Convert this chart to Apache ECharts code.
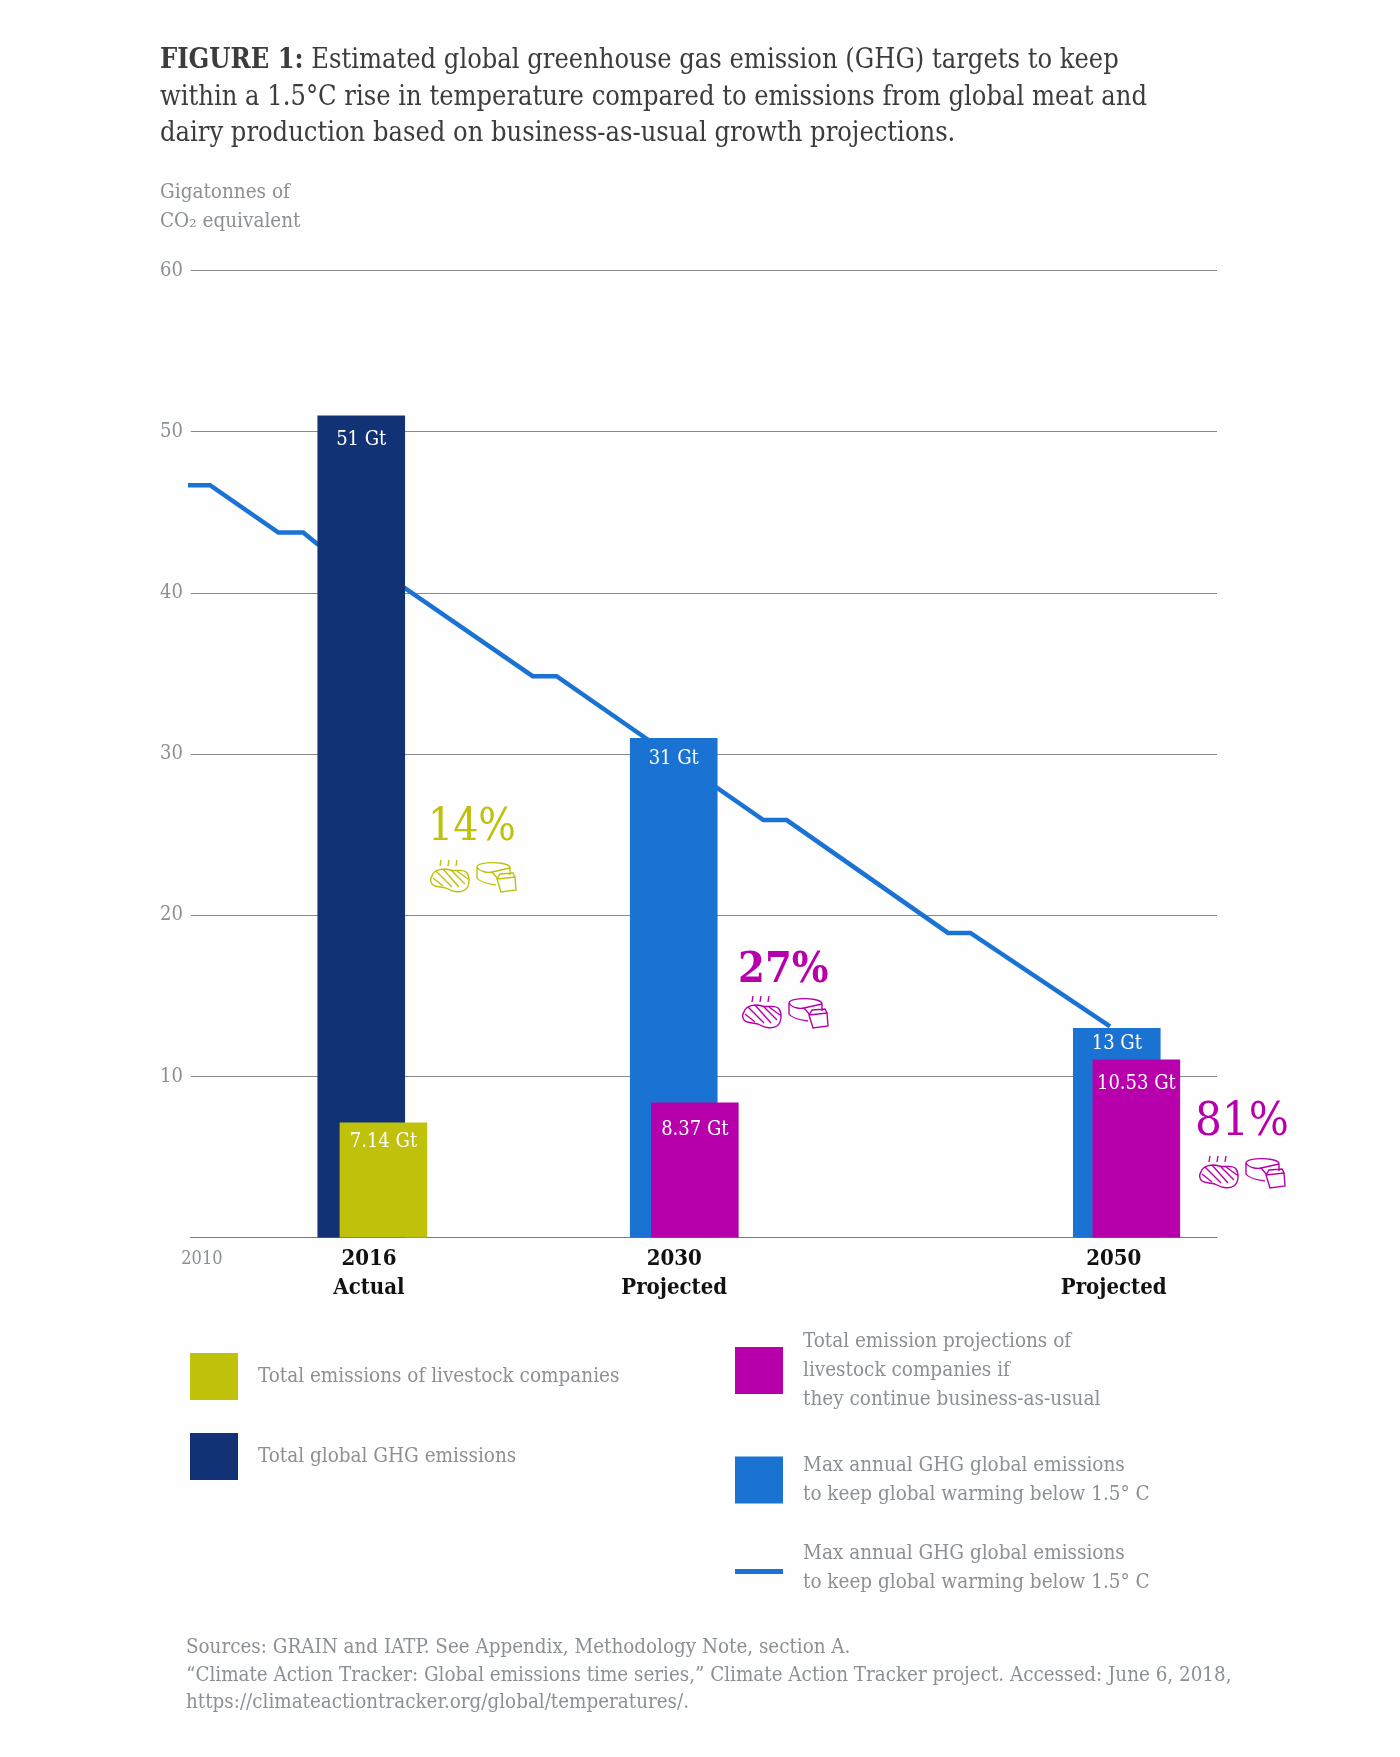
<!DOCTYPE html>
<html>
<head>
<meta charset="utf-8">
<title>Figure 1</title>
<script src="https://cdn.jsdelivr.net/npm/echarts@6/dist/echarts.min.js"></script>
<style>
html,body{margin:0;padding:0;background:#fefefe;}
#chart{width:1400px;height:1757px;}
</style>
</head>
<body>
<div id="chart"></div>
<script>
// blue target line
var lineYears = [2007.85,2008.88,2011.99,2013.12,2013.75,2017.75,2023.56,2024.65,2034.06,2035.12,2042.46,2043.48,2049.83];
var lineValues = [46.68,46.68,43.74,43.74,43.04,40.29,34.83,34.83,25.9,25.9,18.9,18.9,13.1];

// bars (x is where the bar sits on the year axis)
var globalYears = [2015.76];
var globalValues = [51];
var globalLabels = ['51 Gt'];
var livestockYears = [2016.77];
var livestockValues = [7.14];
var livestockLabels = ['7.14 Gt'];
var targetYears = [2029.98,2050.14];
var targetValues = [31,13];
var targetLabels = ['31 Gt','13 Gt'];
var projectedYears = [2030.94,2051.03];
var projectedValues = [8.37,11.05]; // last bar is drawn taller than its printed 10.53
var projectedLabels = ['8.37 Gt','10.53 Gt'];

// tick labels
var xTickValues = [2008.51,2016.11,2030,2050];
var xTickYears = ['2010','2016','2030','2050'];
var xTickNotes = ['','Actual','Projected','Projected'];
var yTickValues = [10,20,30,40,50,60];

var shares = ['14%','27%','81%'];

var titleText = '{b|FIGURE 1:} Estimated global greenhouse gas emission (GHG) targets to keep\n'
	+ 'within a 1.5°C rise in temperature compared to emissions from global meat and\n'
	+ 'dairy production based on business-as-usual growth projections.';
var axisTitle = 'Gigatonnes of\nCO₂ equivalent';
var sourceText = 'Sources: GRAIN and IATP. See Appendix, Methodology Note, section A.\n'
	+ '“Climate Action Tracker: Global emissions time series,” Climate Action Tracker project. Accessed: June 6, 2018,\n'
	+ 'https://climateactiontracker.org/global/temperatures/.';

var names = {
	livestock:'Total emissions of livestock companies',
	global:'Total global GHG emissions',
	projected:'Total emission projections of\nlivestock companies if\nthey continue business-as-usual',
	target:'Max annual GHG global emissions\nto keep global warming below 1.5° C',
	line:'Max annual GHG global emissions (line)'
};

var FONT = '"DejaVu Serif Condensed","DejaVu Serif",serif';
var NAVY = '#113275', BLUE = '#1a73d3', OLIVE = '#bfc10a', MAGENTA = '#b700ac', GREY = '#8b9094';

function barData(xs, ys, labels, drops){
	var out = [];
	for(var i=0;i<xs.length;i++){
		out.push({
			value:[xs[i],ys[i]],
			label:{formatter:labels[i],distance:drops[i]}
		});
	}
	return out;
}

function barSeries(name, color, data){
	return {
		name:name,
		type:'bar',
		barWidth:87.6,
		barGap:'-100%',
		z:3,
		itemStyle:{color:color},
		label:{show:true,position:'insideTop',color:'#fff',fontFamily:FONT,fontSize:20},
		data:data
	};
}

function legendAt(name, left, top, extra){
	var leg = {
		left:left,
		top:top,
		orient:'vertical',
		padding:0,
		selectedMode:false,
		itemWidth:48,
		itemHeight:47,
		icon:'rect',
		// the line's text sits a little above its swatch, hence the small empty row
		formatter:function(n){ return n==names.line ? names.target+'\n{gap| }' : n; },
		textStyle:{color:GREY,fontFamily:FONT,fontSize:20.5,lineHeight:29,padding:[0,0,0,15],
			rich:{gap:{fontSize:4,lineHeight:7}}},
		data:[name]
	};
	if(extra){ for(var k in extra){ leg[k]=extra[k]; } }
	return leg;
}

// steak and cheese outline, drawn in a 86x32 box
var ICON = 'M11 0 L10 6 M19 0 L18 6 M27 0 L26 6 '
	+ 'M2 16 C4 9 14 8 20 10 C26 12 33 8 37 13 C40 17 40 26 35 30 C30 33 23 32 18 29 C13 26 5 28 2 24 C0 21 0 19 2 16 Z '
	+ 'M6 11 L22 27 M13 9 L29 27 M21 10 L35 24 M27 11 L38 19 M3 18 L13 26 '
	+ 'M47 7 C47 1 80 1 80 8 L80 15 M47 7 L47 18 C50 23 60 24 66 25 '
	+ 'M47 7 C50 12 58 13 62 12 L80 8 M62 12 L68 19 '
	+ 'M67 19 L85 17 L86 30 L71 32 Z M67 19 L70 14 L83 13 L85 17';
echarts.graphic.registerShape('foodIcon',echarts.graphic.extendPath(ICON,{}));

function shareMark(text, color, font, tx, ty, ix, iy){
	return [
		{type:'text',x:tx,y:ty,style:{text:text,fill:color,font:font+' '+FONT,textVerticalAlign:'middle'}},
		{type:'foodIcon',x:ix,y:iy,style:{fill:'none',stroke:color,lineWidth:1.4}}
	];
}

var lineData = [];
for(var i=0;i<lineYears.length;i++){ lineData.push([lineYears[i],lineValues[i]]); }

var option = {
	animation:false,
	backgroundColor:'#fefefe',
	textStyle:{fontFamily:FONT},
	title:[
		{
			left:160,top:43,padding:0,text:titleText,
			textStyle:{color:'#3c3c3c',fontFamily:FONT,fontWeight:'normal',fontSize:27,lineHeight:36.5,
				rich:{b:{fontFamily:FONT,fontWeight:'bold',fontSize:27,lineHeight:36.5,color:'#3c3c3c'}}}
		},
		{
			left:160,top:178,padding:0,text:axisTitle,
			textStyle:{color:GREY,fontFamily:FONT,fontWeight:'normal',fontSize:20.5,lineHeight:29}
		},
		{
			left:186,top:1634,padding:0,text:sourceText,
			textStyle:{color:GREY,fontFamily:FONT,fontWeight:'normal',fontSize:20.4,lineHeight:27.5}
		}
	],
	grid:{left:190.7,right:183,top:270.5,bottom:519.5},
	xAxis:{
		type:'value',
		min:2008,
		max:2054.7,
		splitLine:{show:false},
		axisTick:{show:false},
		axisLine:{show:true,onZero:false,lineStyle:{color:'#7a7a7a',width:1.2}},
		axisLabel:{
			customValues:xTickValues,
			margin:7.5,
			lineHeight:29,
			formatter:function(v){
				var i = xTickValues.indexOf(v);
				if(!xTickNotes[i]){ return '{plain|'+xTickYears[i]+'}'; }
				return '{yr|'+xTickYears[i]+'}\n{yr|'+xTickNotes[i]+'}';
			},
			rich:{
				plain:{color:GREY,fontFamily:FONT,fontSize:18,lineHeight:29},
				yr:{color:'#111',fontFamily:FONT,fontWeight:'bold',fontSize:22,lineHeight:29}
			}
		}
	},
	yAxis:{
		type:'value',
		min:0,
		max:60,
		interval:10,
		axisLine:{show:false},
		axisTick:{show:false},
		splitLine:{show:true,lineStyle:{color:'#8a8a8a',width:1.2}},
		axisLabel:{
			customValues:yTickValues,
			color:GREY,
			fontFamily:FONT,
			fontSize:20,
			align:'left',
			margin:30.7
		}
	},
	legend:[
		legendAt(names.livestock,190,1353),
		legendAt(names.global,190,1433),
		legendAt(names.projected,735,1327),
		legendAt(names.target,735,1451),
		legendAt(names.line,735,1539,{itemHeight:5})
	],
	series:[
		{
			name:names.line,
			type:'line',
			z:2,
			clip:false,
			symbol:'none',
			lineStyle:{color:BLUE,width:4.5,join:'miter'},
			itemStyle:{color:BLUE},
			data:lineData
		},
		barSeries(names.global,NAVY,barData(globalYears,globalValues,globalLabels,[14])),
		barSeries(names.target,BLUE,barData(targetYears,targetValues,targetLabels,[11,6])),
		barSeries(names.livestock,OLIVE,barData(livestockYears,livestockValues,livestockLabels,[9])),
		barSeries(names.projected,MAGENTA,barData(projectedYears,projectedValues,projectedLabels,[17,14]))
	],
	graphic:{elements:[].concat(
		shareMark(shares[0],OLIVE,'44px',428,829,430,860),
		shareMark(shares[1],MAGENTA,'bold 43px',738,971,742,996),
		shareMark(shares[2],MAGENTA,'47px',1195,1123,1199,1156)
	)}
};

var chart = echarts.init(document.getElementById('chart'));
chart.setOption(option);
</script>
</body>
</html>
